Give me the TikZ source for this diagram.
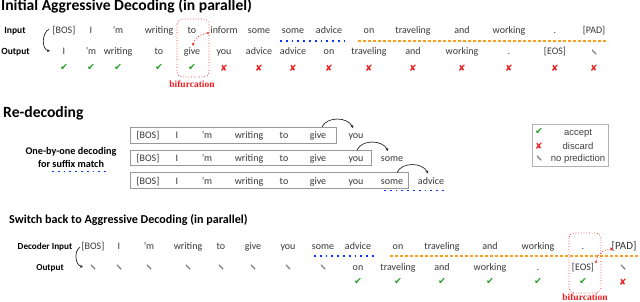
\documentclass[tikz,border=0pt]{standalone}
\usepackage{fontspec}
\setmainfont{Carlito}
\newfontfamily\symf{DejaVu Sans}
\newfontfamily\serf{Liberation Serif}
\newfontfamily\legf{Liberation Sans}
\usetikzlibrary{arrows.meta}
\definecolor{okgreen}{RGB}{40,160,40}
\definecolor{badred}{RGB}{235,30,30}
\definecolor{dotblue}{RGB}{10,50,255}
\definecolor{dashorange}{RGB}{250,160,30}
\definecolor{toktext}{RGB}{55,55,55}
\begin{document}
\begin{tikzpicture}[x=1pt,y=-1pt,
  tok/.style={anchor=base, font=\fontsize{10}{11}\selectfont, text=toktext, inner sep=0pt},
  lab/.style={anchor=base, font=\bfseries\fontsize{9.5}{10}\selectfont, inner sep=0pt},
  ttl/.style={anchor=base west, font=\bfseries\fontsize{15.6}{17}\selectfont, inner sep=0pt},
  okmark/.style={font=\symf\fontsize{9.5}{9.5}\selectfont, text=okgreen, inner sep=0pt},
  badmark/.style={font=\symf\fontsize{9}{9}\selectfont, text=badred, inner sep=0pt},
  nopred/.style={minimum width=4.5pt, minimum height=4.5pt, inner sep=0pt,
    path picture={\draw[gray, line width=1.1pt] (path picture bounding box.north west) -- (path picture bounding box.south east);}},
  bifbox/.style={draw=badred, dotted, line width=0.7pt, rounded corners=5pt},
  biftext/.style={anchor=base, font=\serf\bfseries\fontsize{9.5}{10}\selectfont, text=badred, inner sep=0pt},
  bifarrow/.style={draw=badred, dotted, line width=0.8pt, -{Stealth[length=3pt,width=3pt]}},
  bifdot/.style={circle, fill=badred, inner sep=0pt, minimum size=2.4pt},
  bluedot/.style={draw=dotblue, line width=1.8pt, dash pattern=on 1.8pt off 4pt},
  orangedash/.style={draw=dashorange, line width=1.6pt, dash pattern=on 3pt off 2pt},
  rowbox/.style={draw=gray!80, line width=0.8pt},
  legbox/.style={draw=gray!60, line width=0.8pt},
  legtext/.style={anchor=base, font=\legf\fontsize{9.5}{10}\selectfont, text=black!75, inner sep=0pt},
  carrow/.style={draw=black!85, line width=0.7pt, -{Stealth[length=3pt,width=3pt]}}
]
\useasboundingbox (0,0) rectangle (640,302);

% ---------- Part 1 ----------
\node[ttl] (t1) at (1,10.5) {Initial Aggressive Decoding (in parallel)};
\node[lab] (lin1) at (15,34) {Input};
\node[lab] (lout1) at (15.5,55) {Output};
\foreach \x/\t [count=\i] in {64/{[BOS]},91/I,118/'m,159/writing,192/to,224/inform,259/some,293/some,329/advice,369/on,413/traveling,462/and,509/working,555/.,594/{[PAD]}}
  \node[tok] (ain\i) at (\x,34) {\t};
\foreach \x/\t [count=\i] in {64/I,91/'m,118/writing,159/to,192/give,224/you,259/advice,293/advice,329/on,369/traveling,413/and,462/working,509/.,555/{[EOS]}}
  \node[tok] (aout\i) at (\x,55) {\t};
\node[nopred] (aout15) at (594,52) {};
\foreach \x [count=\i] in {64,91,118,159,192}
  \node[okmark] (achk\i) at (\x,68) {✔};
\foreach \x [count=\i] in {224,259,293,329,369,413,462,509,555,594}
  \node[badmark] (abad\i) at (\x,68) {✘};
\coordinate (c1a) at (49,29);
\coordinate (c1b) at (50,51);
\draw[carrow] (c1a) to[out=210,in=170] (c1b);
\draw[bluedot] (280,41) -- (344,41);
\draw[orangedash] (358,41) -- (608,41);
\draw[bifbox] (177,19) rectangle (209,77);
\node[biftext] (bif1) at (192,88) {bifurcation};
\node[bifdot] (bd1) at (208,33) {};
\coordinate (be1) at (193,46);
\draw[bifarrow] (bd1) to[out=190,in=85] (be1);

% ---------- Part 2 ----------
\node[ttl] (t2) at (3,118) {Re-decoding};
\node[lab, font=\bfseries\fontsize{10.2}{11}\selectfont] (obo1) at (71,155) {One-by-one decoding};
\node[lab, font=\bfseries\fontsize{10.2}{11}\selectfont] (obo2) at (71,167.5) {for suffix match};
\draw[bluedot] (52,171.5) -- (106,171.5);

\draw[rowbox] (130,127) rectangle (336,143);
\draw[rowbox] (130,150) rectangle (371,165.5);
\draw[rowbox] (130,172.5) rectangle (408,188);
\foreach \x/\t [count=\i] in {148/{[BOS]},177/I,207/'m,249/writing,284/to,318/give,356/you}
  \node[tok] (ba\i) at (\x,139) {\t};
\foreach \x/\t [count=\i] in {148/{[BOS]},177/I,207/'m,249/writing,284/to,318/give,356/you,392/some}
  \node[tok] (bb\i) at (\x,161) {\t};
\foreach \x/\t [count=\i] in {148/{[BOS]},177/I,207/'m,249/writing,284/to,318/give,356/you,392/some,431/advice}
  \node[tok] (bc\i) at (\x,184) {\t};
\coordinate (r1s) at (322,127);
\coordinate (r1e) at (353,128);
\coordinate (r2s) at (357,150);
\coordinate (r2e) at (388,151);
\coordinate (r3s) at (397,172.5);
\coordinate (r3e) at (428,173.5);
\draw[carrow] (r1s) to[out=65,in=115] (r1e);
\draw[carrow] (r2s) to[out=65,in=115] (r2e);
\draw[carrow] (r3s) to[out=65,in=115] (r3e);
\draw[bluedot] (384,190.5) -- (446,190.5);

\draw[legbox] (532,124) rectangle (608,166);
\node[okmark] (lg1) at (539,132) {✔};
\node[badmark] (lg2) at (539,146) {✘};
\node[nopred] (lg3) at (539,158) {};
\node[legtext] (lt1) at (578,135.5) {accept};
\node[legtext] (lt2) at (578,149.5) {discard};
\node[legtext] (lt3) at (578,161.5) {no prediction};

% ---------- Part 3 ----------
\node[ttl, font=\bfseries\fontsize{12.1}{13}\selectfont] (t3) at (9,223) {Switch back to Aggressive Decoding (in parallel)};
\node[lab, font=\bfseries\fontsize{9.2}{10}\selectfont] (lin3) at (45,249) {Decoder Input};
\node[lab, font=\bfseries\fontsize{9.2}{10}\selectfont] (lout3) at (50,270) {Output};
\foreach \x/\t [count=\i] in {93/{[BOS]},119/I,149/'m,188/writing,221/to,253/give,288/you,323/some,358/advice,398/on,442/traveling,490/and,538/working,583/.}
  \node[tok] (cin\i) at (\x,249) {\t};
\node[tok, font=\fontsize{11}{12}\selectfont] (cin15) at (624,249) {[PAD]};
\foreach \x [count=\i] in {93,119,149,188,221,253,288,323}
  \node[nopred] (cnp\i) at (\x,267) {};
\foreach \x/\t [count=\i] in {358/on,398/traveling,442/and,490/working,538/.,583/{[EOS]}}
  \node[tok] (cout\i) at (\x,270) {\t};
\node[nopred] (cnp9) at (623,267) {};
\foreach \x [count=\i] in {358,398,442,490,538,583}
  \node[okmark] (cchk\i) at (\x,282) {✔};
\node[badmark] (cbad1) at (623,282) {✘};
\coordinate (c3a) at (80,247);
\coordinate (c3b) at (83,267);
\draw[carrow] (c3a) to[out=215,in=165] (c3b);
\draw[bluedot] (314,256) -- (374,256);
\draw[orangedash] (390,256) -- (640,256);
\draw[bifbox] (569,233) rectangle (601,293);
\node[biftext] (bif2) at (585,300.5) {bifurcation};
\node[bifdot] (bd2) at (596,262) {};
\coordinate (be2) at (613,249);
\draw[bifarrow] (bd2) to[out=80,in=180] (be2);
\end{tikzpicture}
\end{document}
